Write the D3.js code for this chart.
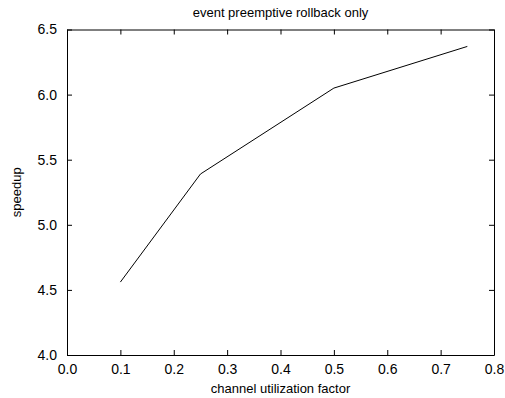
<!DOCTYPE html>
<html>
<head>
<meta charset="utf-8">
<script src="https://cdn.jsdelivr.net/npm/d3@7.9.0/dist/d3.min.js"></script>
<style>
  body { margin: 0; background: #fff; }
  svg text { font-family: "Liberation Sans", Arial, Helvetica, sans-serif; fill: #000; }
</style>
</head>
<body>
<div id="chart"></div>
<script>
const width = 505;
const height = 398;
const margin = { top: 29.5, right: 11, bottom: 43, left: 67 };

// data
const utilization = [0.1, 0.25, 0.5, 0.75];
const speedup = [4.56, 5.39, 6.05, 6.37];
const xTicks = [0, 0.1, 0.2, 0.3, 0.4, 0.5, 0.6, 0.7, 0.8];
const yTicks = [4.0, 4.5, 5.0, 5.5, 6.0, 6.5];

const svg = d3.select("#chart")
  .append("svg")
  .attr("width", width)
  .attr("height", height);

const x = d3.scaleLinear()
  .domain([0, 0.8])
  .range([margin.left, width - margin.right]);

const y = d3.scaleLinear()
  .domain([4, 6.5])
  .range([height - margin.bottom, margin.top]);

const tickLen = 5;

// bottom axis (ticks inward)
svg.append("g")
  .attr("transform", `translate(0,${height - margin.bottom})`)
  .call(d3.axisBottom(x).tickValues(xTicks).tickFormat(d3.format(".1f"))
    .tickSizeInner(-tickLen).tickSizeOuter(0).tickPadding(9))
  .call(g => g.selectAll("text").attr("font-size", 14));

// top axis, ticks only
svg.append("g")
  .attr("transform", `translate(0,${margin.top})`)
  .call(d3.axisTop(x).tickValues(xTicks).tickFormat("")
    .tickSizeInner(-tickLen).tickSizeOuter(0));

// left axis
svg.append("g")
  .attr("transform", `translate(${margin.left},0)`)
  .call(d3.axisLeft(y).tickValues(yTicks).tickFormat(d3.format(".1f"))
    .tickSizeInner(-tickLen).tickSizeOuter(0).tickPadding(10))
  .call(g => g.selectAll("text").attr("font-size", 14));

// right axis, ticks only
svg.append("g")
  .attr("transform", `translate(${width - margin.right},0)`)
  .call(d3.axisRight(y).tickValues(yTicks).tickFormat("")
    .tickSizeInner(-tickLen).tickSizeOuter(0));

svg.selectAll(".domain").attr("stroke", "#000");
svg.selectAll(".tick line").attr("stroke", "#000");

// the line
svg.append("path")
  .datum(utilization.map((u, i) => [u, speedup[i]]))
  .attr("fill", "none")
  .attr("stroke", "#000")
  .attr("stroke-width", 1)
  .attr("d", d3.line().x(d => x(d[0])).y(d => y(d[1])));

// title
svg.append("text")
  .attr("x", (margin.left + width - margin.right) / 2)
  .attr("y", 17)
  .attr("text-anchor", "middle")
  .attr("font-size", 13)
  .text("event preemptive rollback only");

// x label
svg.append("text")
  .attr("x", (margin.left + width - margin.right) / 2)
  .attr("y", 393)
  .attr("text-anchor", "middle")
  .attr("font-size", 13)
  .text("channel utilization factor");

// y label
svg.append("text")
  .attr("transform", `translate(21,${(margin.top + height - margin.bottom) / 2}) rotate(-90)`)
  .attr("text-anchor", "middle")
  .attr("font-size", 13)
  .text("speedup");
</script>
</body>
</html>
